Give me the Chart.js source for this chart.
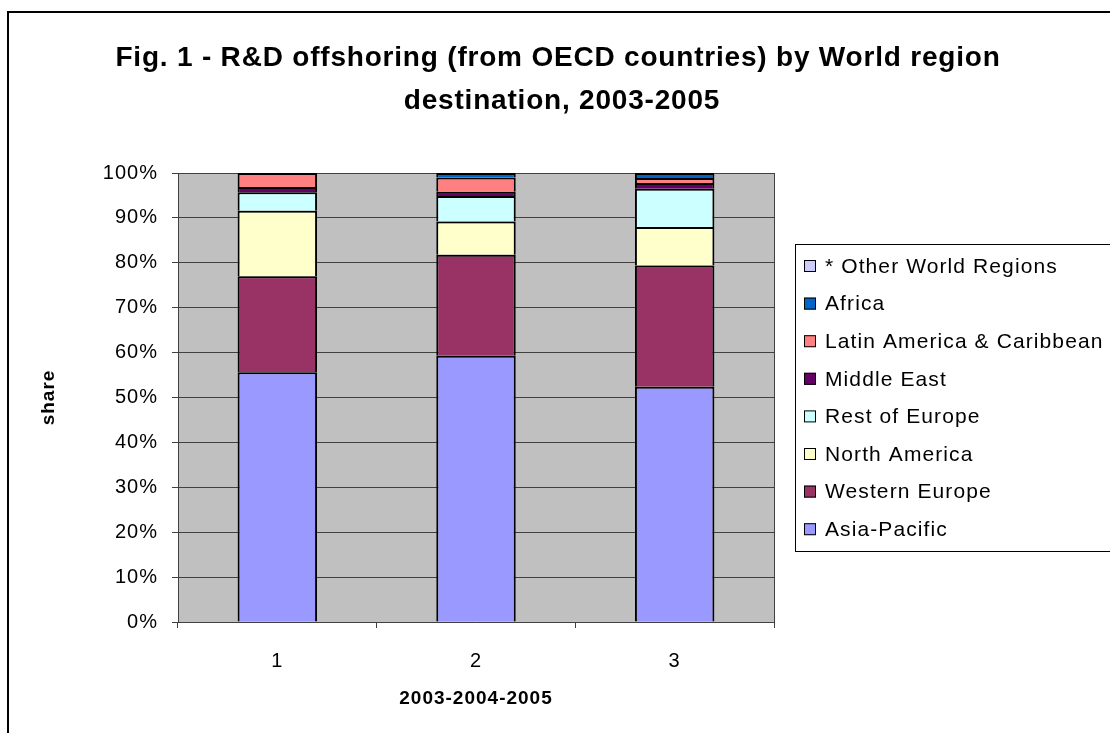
<!DOCTYPE html>
<html>
<head>
<meta charset="utf-8">
<script src="https://cdn.jsdelivr.net/npm/chart.js@4"></script>
<style>
  html, body { margin: 0; padding: 0; background: #fff; }
  #wrap { width: 1110px; height: 733px; position: relative; }
</style>
</head>
<body>
<div id="wrap"><canvas id="chart"></canvas></div>
<script>
// categories (years shown as 1, 2, 3)
const periods = ["1", "2", "3"];

// shares in %, bottom to top of each bar
const asiaPacific = [55.6, 59.3, 52.4];
const westernEurope = [21.4, 22.5, 27.0];
const northAmerica = [14.6, 7.4, 8.6];
const restOfEurope = [4.1, 5.7, 8.5];
const middleEast = [1.2, 0.9, 1.3];
const latinAmerica = [3.1, 3.2, 1.1];
const africa = [0, 1.0, 1.1];
const otherRegions = [0, 0, 0];

const titleLines = ["Fig. 1 - R&D offshoring (from OECD countries) by World region", "destination, 2003-2005"];
const FONT = "'Liberation Sans', Arial, sans-serif";

const series = [
  { label: "Asia-Pacific", data: asiaPacific, color: "#9999FF" },
  { label: "Western Europe", data: westernEurope, color: "#993366" },
  { label: "North America", data: northAmerica, color: "#FFFFCC" },
  { label: "Rest of Europe", data: restOfEurope, color: "#CCFFFF" },
  { label: "Middle East", data: middleEast, color: "#660066" },
  { label: "Latin America & Caribbean", data: latinAmerica, color: "#FF8080" },
  { label: "Africa", data: africa, color: "#0066CC" },
  { label: "* Other World Regions", data: otherRegions, color: "#CCCCFF" },
];

// fondo gris del area, marco, titulo y leyenda
const plotBg = {
  id: "plotBg",
  beforeDraw(chart) {
    const { ctx, chartArea: a } = chart;
    ctx.letterSpacing = "1px";
    ctx.save();
    ctx.fillStyle = "#C0C0C0";
    ctx.fillRect(a.left, a.top, a.right - a.left, a.bottom - a.top);
    ctx.restore();
  },
  afterDraw(chart) {
    const { ctx, chartArea: a } = chart;
    ctx.save();
    ctx.strokeStyle = "#404040";
    ctx.lineWidth = 1;
    ctx.beginPath();
    ctx.moveTo(a.right + 0.5, a.top);
    ctx.lineTo(a.right + 0.5, a.bottom);
    ctx.stroke();

    // outer frame
    ctx.strokeStyle = "#000";
    ctx.lineWidth = 2;
    ctx.strokeRect(8, 12, 1120, 740);

    // title
    ctx.fillStyle = "#000";
    ctx.font = "bold 28px " + FONT;
    ctx.letterSpacing = "0.8px";
    ctx.textAlign = "center";
    ctx.textBaseline = "alphabetic";
    ctx.fillText(titleLines[0], 558, 66);
    ctx.fillText(titleLines[1], 562, 109);

    // legend (reversed order like the original)
    ctx.strokeStyle = "#000";
    ctx.lineWidth = 1;
    ctx.strokeRect(795.5, 244.5, 400, 307);
    ctx.font = "21px " + FONT;
    ctx.letterSpacing = "1.1px";
    ctx.textAlign = "left";
    ctx.textBaseline = "middle";
    const items = chart.data.datasets.slice().reverse();
    items.forEach((ds, i) => {
      const y = 266 + i * 37.6;
      ctx.fillStyle = ds.backgroundColor;
      ctx.fillRect(804, y - 6, 12, 12);
      ctx.strokeRect(804.5, y - 5.5, 11, 11);
      ctx.fillStyle = "#000";
      ctx.fillText(ds.label, 825, y + 1);
    });
    ctx.restore();
  },
};

new Chart(document.getElementById("chart"), {
  type: "bar",
  data: {
    labels: periods,
    datasets: series.map((s) => ({
      label: s.label,
      data: s.data,
      backgroundColor: s.color,
      borderColor: "#000",
      borderWidth: 2,
      categoryPercentage: 1,
      barPercentage: 0.4,
    })),
  },
  options: {
    responsive: true,
    maintainAspectRatio: false,
    animation: false,
    layout: { padding: { left: 33, right: 336, top: 173, bottom: 0 } },
    plugins: {
      legend: { display: false },
      tooltip: { enabled: false },
    },
    scales: {
      x: {
        stacked: true,
        afterFit: (s) => { s.height = 111; },
        grid: { drawOnChartArea: false, drawTicks: true, tickLength: 6, color: "#404040", offset: true },
        border: { color: "#404040" },
        ticks: { color: "#000", font: { family: FONT, size: 20 }, padding: 21 },
        title: {
          display: true,
          text: "2003-2004-2005",
          color: "#000",
          font: { family: FONT, size: 19, weight: "bold" },
          padding: { top: 4, bottom: 23 },
        },
      },
      y: {
        stacked: true,
        min: 0,
        max: 100,
        afterFit: (s) => { s.width = 145; },
        grid: { color: "#404040", tickLength: 6 },
        border: { color: "#404040" },
        ticks: {
          stepSize: 10,
          color: "#000",
          font: { family: FONT, size: 20 },
          padding: 14,
          callback: (v) => v + "%",
        },
        title: {
          display: true,
          text: "share",
          color: "#000",
          font: { family: FONT, size: 19, weight: "bold" },
          padding: { top: 4, bottom: 4 },
        },
      },
    },
  },
  plugins: [plotBg],
});
</script>
</body>
</html>
